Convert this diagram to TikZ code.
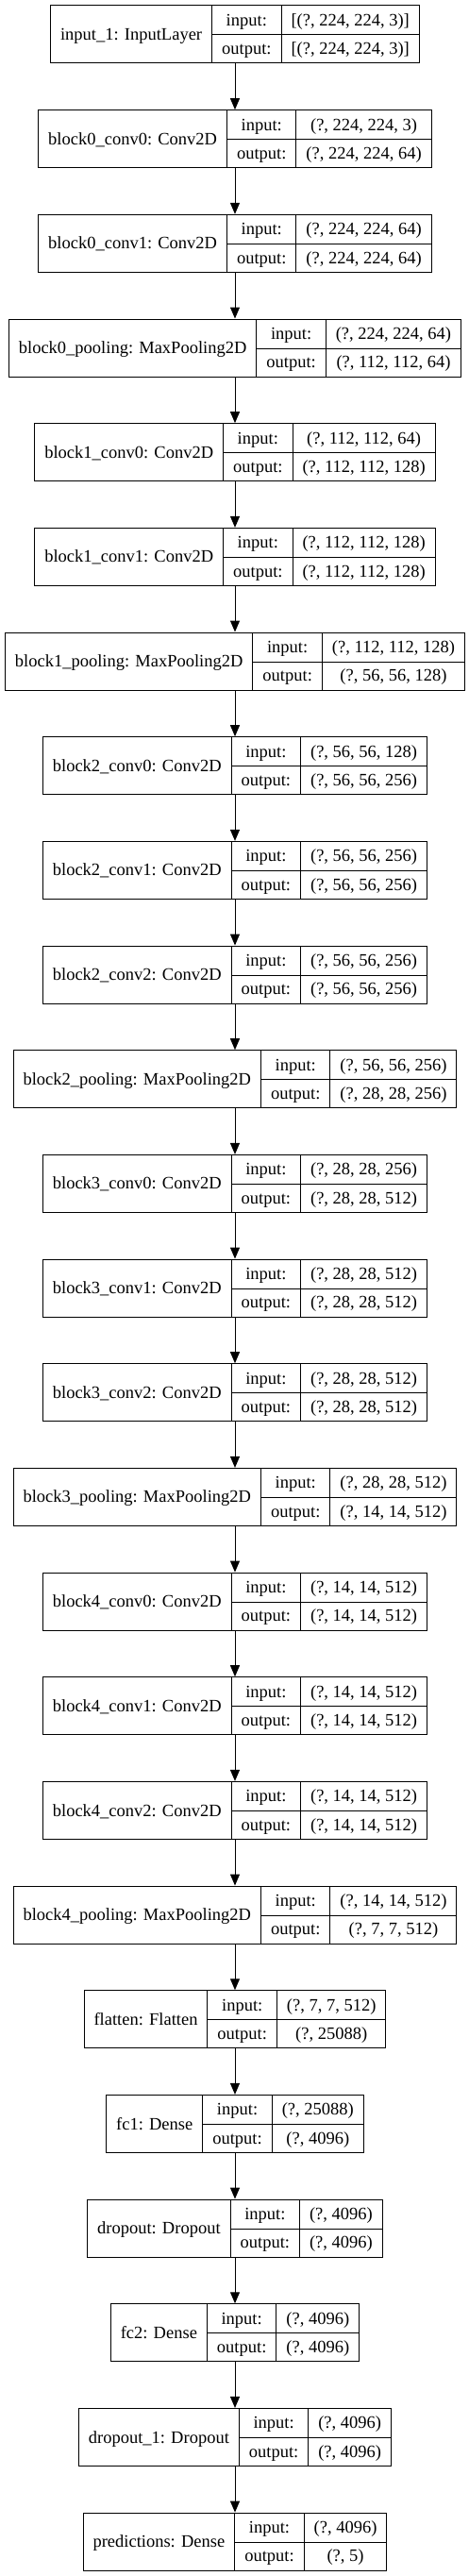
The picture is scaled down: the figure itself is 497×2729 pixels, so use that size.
\documentclass[tikz,border=0pt]{standalone}
\usepackage{fontspec}
\setmainfont{Liberation Serif}
\usetikzlibrary{arrows.meta}
\renewcommand{\arraystretch}{1.412}
\setlength{\tabcolsep}{10.5pt}
\setlength{\arrayrulewidth}{1pt}
% one keras layer: name | input/output | shapes
\newcommand{\layerrec}[3]{\begin{tabular}{c|c|c}
 & input: & #2 \\ \cline{2-3}
\raisebox{15.25pt}[0pt][0pt]{#1} & output: & #3
\end{tabular}}
\tikzset{
  layerbox/.style={draw, line width=1pt, inner sep=0pt, font=\fontsize{18.5}{21.6}\selectfont},
  link/.style={-{Triangle[length=12pt,width=10pt]}, line width=1pt}
}
\begin{document}
\begin{tikzpicture}[x=1pt,y=1pt]
\useasboundingbox (0,0) rectangle (497,-2729);
\foreach \nm/\inp/\outp [count=\i from 0] in {
  {input\_1: InputLayer}/{[(?, 224, 224, 3)]}/{[(?, 224, 224, 3)]},
  {block0\_conv0: Conv2D}/{(?, 224, 224, 3)}/{(?, 224, 224, 64)},
  {block0\_conv1: Conv2D}/{(?, 224, 224, 64)}/{(?, 224, 224, 64)},
  {block0\_pooling: MaxPooling2D}/{(?, 224, 224, 64)}/{(?, 112, 112, 64)},
  {block1\_conv0: Conv2D}/{(?, 112, 112, 64)}/{(?, 112, 112, 128)},
  {block1\_conv1: Conv2D}/{(?, 112, 112, 128)}/{(?, 112, 112, 128)},
  {block1\_pooling: MaxPooling2D}/{(?, 112, 112, 128)}/{(?, 56, 56, 128)},
  {block2\_conv0: Conv2D}/{(?, 56, 56, 128)}/{(?, 56, 56, 256)},
  {block2\_conv1: Conv2D}/{(?, 56, 56, 256)}/{(?, 56, 56, 256)},
  {block2\_conv2: Conv2D}/{(?, 56, 56, 256)}/{(?, 56, 56, 256)},
  {block2\_pooling: MaxPooling2D}/{(?, 56, 56, 256)}/{(?, 28, 28, 256)},
  {block3\_conv0: Conv2D}/{(?, 28, 28, 256)}/{(?, 28, 28, 512)},
  {block3\_conv1: Conv2D}/{(?, 28, 28, 512)}/{(?, 28, 28, 512)},
  {block3\_conv2: Conv2D}/{(?, 28, 28, 512)}/{(?, 28, 28, 512)},
  {block3\_pooling: MaxPooling2D}/{(?, 28, 28, 512)}/{(?, 14, 14, 512)},
  {block4\_conv0: Conv2D}/{(?, 14, 14, 512)}/{(?, 14, 14, 512)},
  {block4\_conv1: Conv2D}/{(?, 14, 14, 512)}/{(?, 14, 14, 512)},
  {block4\_conv2: Conv2D}/{(?, 14, 14, 512)}/{(?, 14, 14, 512)},
  {block4\_pooling: MaxPooling2D}/{(?, 14, 14, 512)}/{(?, 7, 7, 512)},
  {flatten: Flatten}/{(?, 7, 7, 512)}/{(?, 25088)},
  {fc1: Dense}/{(?, 25088)}/{(?, 4096)},
  {dropout: Dropout}/{(?, 4096)}/{(?, 4096)},
  {fc2: Dense}/{(?, 4096)}/{(?, 4096)},
  {dropout\_1: Dropout}/{(?, 4096)}/{(?, 4096)},
  {predictions: Dense}/{(?, 4096)}/{(?, 5)}}
  \node[layerbox] (L\i) at (249,{-36.5-110.67*\i}) {\layerrec{\nm}{\inp}{\outp}};
% arrows between consecutive layers
\foreach \i [evaluate=\i as \j using int(\i-1)] in {1,...,24}
  \draw[link] (L\j.south) -- (L\i.north);
\end{tikzpicture}
\end{document}
